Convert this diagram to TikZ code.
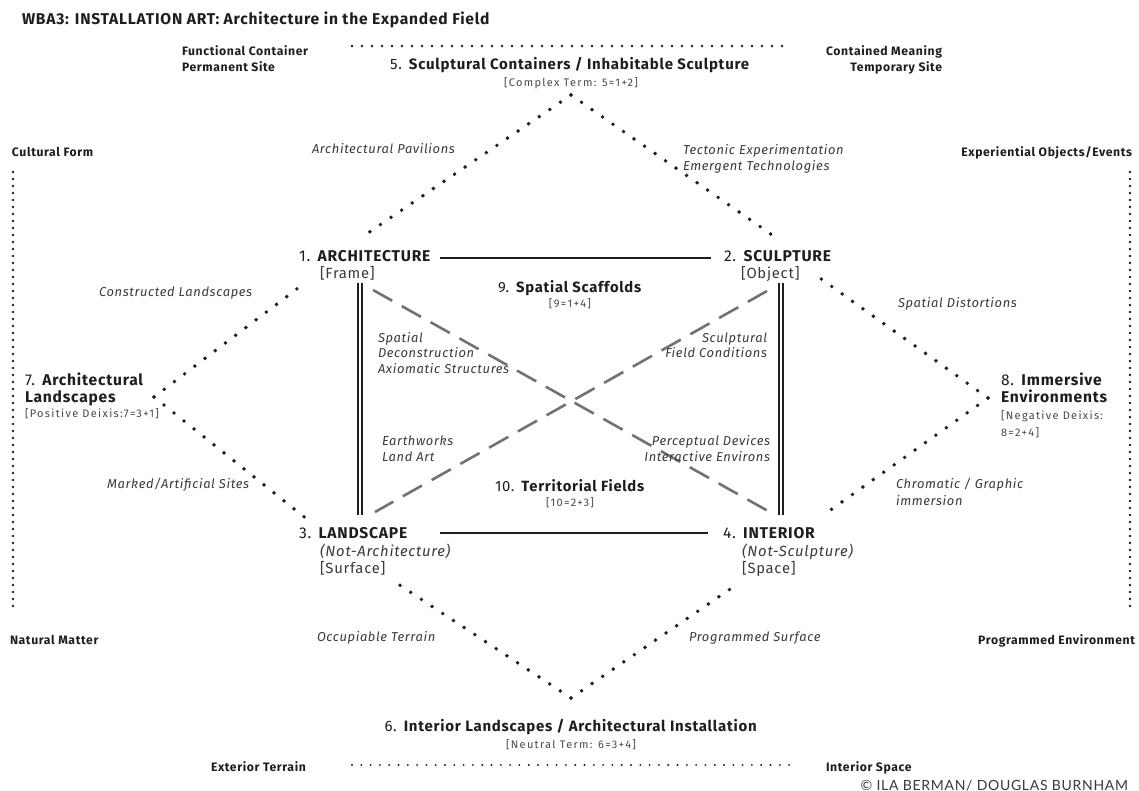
\documentclass[tikz,border=0pt]{standalone}
\usepackage{fontspec}
\setmainfont{Fira Sans}[LetterSpace=5]
\newfontfamily\copyfont{Lato}[LetterSpace=5]
\definecolor{ink}{HTML}{1E1E1E}
\definecolor{ink2}{HTML}{3A3A3A}
\definecolor{ink3}{HTML}{4A4A4A}
\definecolor{dashgray}{HTML}{727272}
\tikzset{
  lbl/.style={inner sep=0pt, outer sep=0pt, text=ink},
  titlestyle/.style={lbl, font=\bfseries\fontsize{15.6}{18}\selectfont},
  corner/.style={lbl, font=\bfseries\fontsize{12.2}{14}\selectfont},
  ital/.style={lbl, font=\itshape\fontsize{12.9}{15}\selectfont, text=ink2},
  term/.style={lbl, font=\fontsize{15.6}{18}\selectfont},
  bigterm/.style={lbl, font=\fontsize{15}{18}\selectfont},
  brk/.style={lbl, font=\fontsize{14.8}{17}\selectfont, text=ink2},
  brkit/.style={lbl, font=\itshape\fontsize{14.8}{17}\selectfont, text=ink2},
  midterm/.style={lbl, font=\fontsize{14.8}{17}\selectfont},
  small/.style={lbl, font=\addfontfeature{LetterSpace=12}\fontsize{11}{13}\selectfont, text=ink3},
  copyr/.style={lbl, font=\copyfont\fontsize{14}{16}\selectfont, text=ink2},
  diadots/.style={line width=3.9pt, line cap=round, dash pattern=on 0pt off 12.8pt, ink},
  hdots/.style={line width=2.7pt, line cap=round, dash pattern=on 0pt off 10pt, ink},
  bdots/.style={line width=2.1pt, line cap=round, dash pattern=on 0pt off 9.3pt, ink},
  vdots/.style={line width=2.6pt, line cap=round, dash pattern=on 0pt off 7pt, ink},
  solidline/.style={line width=2.5pt, ink},
  dblline/.style={line width=2.2pt, ink},
  crossdash/.style={line width=2.6pt, dashgray, dash pattern=on 22pt off 11pt}
}
\begin{document}
\begin{tikzpicture}[x=1pt,y=-1pt]
\useasboundingbox (0,0) rectangle (1139,791);
\fill[white] (0,0) rectangle (1139,791);

% ---------- title ----------
\node[titlestyle, anchor=base west] (title) at (22,25) {WBA3: INSTALLATION ART: Architecture in the Expanded Field};

% ---------- top axis ----------
\node[corner, anchor=base west] (fc) at (182,56) {Functional Container};
\node[corner, anchor=base west] (ps) at (182,72) {Permanent Site};
\node[corner, anchor=base east] (cm) at (942,56) {Contained Meaning};
\node[corner, anchor=base east] (ts) at (942,72) {Temporary Site};
\coordinate (topL) at (352,46);
\coordinate (topR) at (790,46);
\draw[hdots] (topL) -- (topR);

\node[bigterm, anchor=base] (n5) at (570,70) {5. \textbf{Sculptural Containers / Inhabitable Sculpture}};
\node[small, anchor=base] (n5b) at (571,87) {[Complex Term: 5=1+2]};

% ---------- side axes ----------
\node[corner, anchor=base west] (cf) at (12,157) {Cultural Form};
\node[corner, anchor=base east] (eo) at (1132,157) {Experiential Objects/Events};
\node[corner, anchor=base west] (nm) at (10,644) {Natural Matter};
\node[corner, anchor=base east] (pe) at (1135,644) {Programmed Environment};
\coordinate (lvT) at (13,172);
\coordinate (lvB) at (13,612);
\coordinate (rvT) at (1130,172);
\coordinate (rvB) at (1130,613);
\draw[vdots] (lvT) -- (lvB);
\draw[vdots] (rvT) -- (rvB);

% ---------- diamond apexes and ends ----------
\coordinate (ap5) at (571,95);
\coordinate (ap6) at (571,698);
\coordinate (ap7) at (154,397);
\coordinate (ap8) at (988,398);
\coordinate (a5L) at (368,233);
\coordinate (a5R) at (775,237);
\coordinate (a7T) at (306,282);
\coordinate (a7B) at (308,520);
\coordinate (a8T) at (817,276);
\coordinate (a8B) at (825,514);
\coordinate (a6L) at (392,580);
\coordinate (a6R) at (739,583);

\draw[diadots] (ap5) -- (a5L);
\draw[diadots] (ap5) -- (a5R);
\draw[diadots] (ap7) -- (a7T);
\draw[diadots] (ap7) -- (a7B);
\draw[diadots] (ap8) -- (a8T);
\draw[diadots] (ap8) -- (a8B);
\draw[diadots] (ap6) -- (a6L);
\draw[diadots] (ap6) -- (a6R);

% ---------- italic edge labels ----------
\node[ital, anchor=base west] (ap) at (312,154) {Architectural Pavilions};
\node[ital, anchor=base west] (te) at (683,155) {Tectonic Experimentation};
\node[ital, anchor=base west] (et) at (683,171) {Emergent Technologies};
\node[ital, anchor=base west] (cl) at (99,297) {Constructed Landscapes};
\node[ital, anchor=base west] (sd) at (898,308) {Spatial Distortions};
\node[ital, anchor=base west] (ma) at (107,488) {Marked/Artificial Sites};
\node[ital, anchor=base west] (ch) at (896,488) {Chromatic / Graphic};
\node[ital, anchor=base west] (im) at (896,505) {immersion};
\node[ital, anchor=base west] (ot) at (317,641) {Occupiable Terrain};
\node[ital, anchor=base west] (psf) at (689,641) {Programmed Surface};

% ---------- four corner terms ----------
\node[term, anchor=base west] (n1) at (299,262) {1. \textbf{ARCHITECTURE}};
\node[brk, anchor=base west] (n1b) at (320,279) {[Frame]};
\node[term, anchor=base west] (n2) at (724,262) {2. \textbf{SCULPTURE}};
\node[brk, anchor=base west] (n2b) at (741,279) {[Object]};
\node[term, anchor=base west] (n3) at (299,538) {3. \textbf{LANDSCAPE}};
\node[brkit, anchor=base west] (n3i) at (320,556) {(Not-Architecture)};
\node[brk, anchor=base west] (n3b) at (320,573) {[Surface]};
\node[term, anchor=base west] (n4) at (723,538) {4. \textbf{INTERIOR}};
\node[brkit, anchor=base west] (n4i) at (742,556) {(Not-Sculpture)};
\node[brk, anchor=base west] (n4b) at (742,573) {[Space]};

% solid connectors
\coordinate (s12L) at (440,258);
\coordinate (s12R) at (711,258);
\coordinate (s34L) at (440,533);
\coordinate (s34R) at (708,533);
\draw[solidline] (s12L) -- (s12R);
\draw[solidline] (s34L) -- (s34R);

% double connectors
\coordinate (d13T) at (360,283);
\coordinate (d13B) at (360,515);
\coordinate (d24T) at (781,283);
\coordinate (d24B) at (781,515);
\draw[dblline] ([xshift=-2.3pt]d13T) -- ([xshift=-2.3pt]d13B);
\draw[dblline] ([xshift=2.3pt]d13T) -- ([xshift=2.3pt]d13B);
\draw[dblline] ([xshift=-2.3pt]d24T) -- ([xshift=-2.3pt]d24B);
\draw[dblline] ([xshift=2.3pt]d24T) -- ([xshift=2.3pt]d24B);

% dashed diagonals
\coordinate (x14a) at (373,290);
\coordinate (x14b) at (768,511);
\coordinate (x23a) at (767,291);
\coordinate (x23b) at (375,512);
\draw[crossdash] (x14a) -- (x14b);
\draw[crossdash] (x23a) -- (x23b);

% ---------- inner labels ----------
\node[midterm, anchor=base] (n9) at (570,292) {9. \textbf{Spatial Scaffolds}};
\node[small, anchor=base] (n9b) at (570,307) {[9=1+4]};
\node[ital, anchor=base west] (sp1) at (378,342) {Spatial};
\node[ital, anchor=base west] (sp2) at (378,357) {Deconstruction};
\node[ital, anchor=base west] (sp3) at (378,373) {Axiomatic Structures};
\node[ital, anchor=base east] (sf1) at (767,342) {Sculptural};
\node[ital, anchor=base east] (sf2) at (767,357) {Field Conditions};
\node[ital, anchor=base west] (ew1) at (382,445) {Earthworks};
\node[ital, anchor=base west] (ew2) at (382,461) {Land Art};
\node[ital, anchor=base east] (pd1) at (770,445) {Perceptual Devices};
\node[ital, anchor=base east] (pd2) at (770,461) {Interactive Environs};
\node[midterm, anchor=base] (n10) at (570,491) {10. \textbf{Territorial Fields}};
\node[small, anchor=base] (n10b) at (570,506) {[10=2+3]};

% ---------- side terms ----------
\node[term, anchor=base west] (n7) at (25,385) {7. \textbf{Architectural}};
\node[term, anchor=base west] (n7b) at (25,402) {\textbf{Landscapes}};
\node[small, anchor=base west] (n7c) at (25,417) {[Positive Deixis:7=3+1]};
\node[term, anchor=base west] (n8) at (1001,385) {8. \textbf{Immersive}};
\node[term, anchor=base west] (n8b) at (1001,402) {\textbf{Environments}};
\node[small, anchor=base west] (n8c) at (1001,419) {[Negative Deixis:};
\node[small, anchor=base west] (n8d) at (1001,436) {8=2+4]};

% ---------- bottom ----------
\node[bigterm, anchor=base] (n6) at (571,731) {6. \textbf{Interior Landscapes / Architectural Installation}};
\node[small, anchor=base] (n6b) at (571,748) {[Neutral Term: 6=3+4]};
\node[corner, anchor=base west] (ex) at (211,771) {Exterior Terrain};
\node[corner, anchor=base west] (is) at (826,771) {Interior Space};
\coordinate (botL) at (352,765);
\coordinate (botR) at (790,765);
\draw[bdots] (botL) -- (botR);
\node[copyr, anchor=base east] (cp) at (1128,790) {© ILA BERMAN/ DOUGLAS BURNHAM};
\end{tikzpicture}
\end{document}
